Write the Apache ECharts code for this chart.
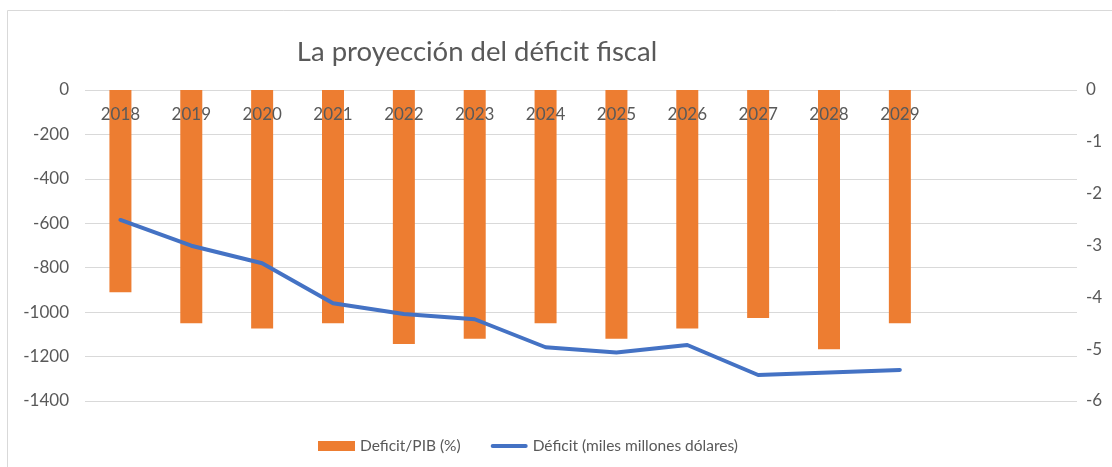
<!DOCTYPE html>
<html>
<head>
<meta charset="utf-8">
<script src="https://cdn.jsdelivr.net/npm/echarts@6/dist/echarts.min.js"></script>
<style>
  html, body { margin: 0; padding: 0; background: #fff; }
  #main { width: 1112px; height: 467px; }
</style>
</head>
<body>
<div id="main"></div>
<script>
// años (las dos últimas categorías vacías, como en la hoja original)
var years = ['2018', '2019', '2020', '2021', '2022', '2023', '2024', '2025', '2026', '2027', '2028', '2029', '', ''];
// Deficit/PIB (%)
var deficitPib = [-3.9, -4.5, -4.6, -4.5, -4.9, -4.8, -4.5, -4.8, -4.6, -4.4, -5.0, -4.5, null, null];
// Déficit (miles millones dólares)
var deficitUsd = [-585, -701, -780, -960, -1008, -1032, -1158, -1182, -1148, -1283, -1272, -1260, null, null];

var leftTicks = { min: -1400, max: 0, interval: 200 };
var rightTicks = { min: -6, max: 0, interval: 1 };

var txt = '#595959';
var font = 'Lato';

var myChart = echarts.init(document.getElementById('main'));
var option = {
    animation: false,
    textStyle: { fontFamily: font },
    graphic: [{
        type: 'rect',
        shape: { x: 7.5, y: 10.5, width: 1300, height: 600 },
        style: { fill: 'none', stroke: '#d9d9d9', lineWidth: 1 },
        silent: true
    }],
    title: {
        text: 'La proyección del déficit fiscal',
        left: 472,
        textAlign: 'center',
        top: 33,
        textStyle: { color: txt, fontSize: 27.5, fontWeight: 'normal', fontFamily: font }
    },
    legend: {
        top: 433,
        left: 313,
        itemGap: 30,
        itemWidth: 37,
        itemHeight: 10,
        textStyle: { color: txt, fontSize: 15.5, fontFamily: font },
        data: [
            { name: 'Deficit/PIB (%)', icon: 'path://M0,0h37v10h-37z' },
            { name: 'Déficit (miles millones dólares)', icon: 'path://M2,0h33a2,2 0 0 1 0,4h-33a2,2 0 0 1 0,-4z' }
        ]
    },
    grid: { left: 85, right: 35, top: 90, bottom: 66 },
    xAxis: {
        type: 'category',
        data: years,
        position: 'top',
        z: 10,
        axisLine: { show: false },
        axisTick: { show: false },
        axisLabel: { color: txt, fontSize: 17, inside: true, margin: 16, interval: 0 }
    },
    yAxis: [{
        type: 'value',
        min: leftTicks.min, max: leftTicks.max, interval: leftTicks.interval,
        axisLine: { show: false },
        axisTick: { show: false },
        axisLabel: { color: txt, fontSize: 17, margin: 16, formatter: function (v) { return String(v); } },
        splitLine: { lineStyle: { color: '#d9d9d9', width: 1 } }
    }, {
        type: 'value',
        min: rightTicks.min, max: rightTicks.max, interval: rightTicks.interval,
        axisLine: { show: false },
        axisTick: { show: false },
        axisLabel: { color: txt, fontSize: 17, margin: 9, formatter: function (v) { return String(v); } },
        splitLine: { show: false }
    }],
    series: [{
        name: 'Deficit/PIB (%)',
        type: 'bar',
        yAxisIndex: 1,
        data: deficitPib,
        barWidth: 22,
        itemStyle: { color: '#ED7D31' }
    }, {
        name: 'Déficit (miles millones dólares)',
        type: 'line',
        yAxisIndex: 0,
        data: deficitUsd,
        symbol: 'none',
        z: 5,
        lineStyle: { color: '#4472C4', width: 4, cap: 'round', join: 'round' },
        itemStyle: { color: '#4472C4' }
    }]
};
myChart.setOption(option);
</script>
</body>
</html>
